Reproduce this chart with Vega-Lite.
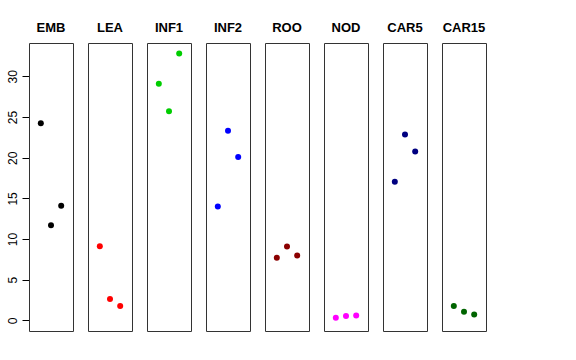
{
  "$schema": "https://vega.github.io/schema/vega-lite/v6.json",
  "padding": {"left": 6, "top": 22, "right": 5, "bottom": 5},
  "background": "white",
  "bounds": "flush",
  "data": {"values": [
    {"tissue": "EMB", "rep": 1, "value": 24.25},
    {"tissue": "EMB", "rep": 2, "value": 11.71},
    {"tissue": "EMB", "rep": 3, "value": 14.1},
    {"tissue": "LEA", "rep": 1, "value": 9.12},
    {"tissue": "LEA", "rep": 2, "value": 2.63},
    {"tissue": "LEA", "rep": 3, "value": 1.77},
    {"tissue": "INF1", "rep": 1, "value": 29.1},
    {"tissue": "INF1", "rep": 2, "value": 25.7},
    {"tissue": "INF1", "rep": 3, "value": 32.8},
    {"tissue": "INF2", "rep": 1, "value": 14.0},
    {"tissue": "INF2", "rep": 2, "value": 23.3},
    {"tissue": "INF2", "rep": 3, "value": 20.1},
    {"tissue": "ROO", "rep": 1, "value": 7.69},
    {"tissue": "ROO", "rep": 2, "value": 9.08},
    {"tissue": "ROO", "rep": 3, "value": 7.97},
    {"tissue": "NOD", "rep": 1, "value": 0.33},
    {"tissue": "NOD", "rep": 2, "value": 0.53},
    {"tissue": "NOD", "rep": 3, "value": 0.62},
    {"tissue": "CAR5", "rep": 1, "value": 17.05},
    {"tissue": "CAR5", "rep": 2, "value": 22.85},
    {"tissue": "CAR5", "rep": 3, "value": 20.75},
    {"tissue": "CAR15", "rep": 1, "value": 1.76},
    {"tissue": "CAR15", "rep": 2, "value": 1.07},
    {"tissue": "CAR15", "rep": 3, "value": 0.74}
  ]},
  "facet": {
    "column": {
      "field": "tissue", "type": "nominal",
      "sort": ["EMB", "LEA", "INF1", "INF2", "ROO", "NOD", "CAR5", "CAR15"],
      "header": {"title": null, "labelFont": "Liberation Sans", "labelFontWeight": "bold", "labelFontSize": 13, "labelPadding": 8, "labelColor": "black"}
    }
  },
  "spacing": 15,
  "spec": {
    "width": 44,
    "height": 288,
    "mark": {"type": "point", "filled": true, "size": 36, "opacity": 1},
    "encoding": {
      "x": {"field": "rep", "type": "quantitative", "scale": {"domain": [-0.16, 4.16], "nice": false, "zero": false}, "axis": null},
      "y": {"field": "value", "type": "quantitative",
        "scale": {"domain": [-1.3, 34.1], "nice": false, "zero": false},
        "axis": {"values": [0, 5, 10, 15, 20, 25, 30], "labelAngle": -90, "tickSize": 7, "domain": false, "grid": false, "title": null,
          "labelFont": "Liberation Sans", "labelFontSize": 12, "labelColor": "black", "tickColor": "black", "labelPadding": 3}},
      "color": {"field": "tissue", "type": "nominal",
        "scale": {"domain": ["EMB", "LEA", "INF1", "INF2", "ROO", "NOD", "CAR5", "CAR15"],
          "range": ["#000000", "#FF0000", "#00CD00", "#0000FF", "#8B0000", "#FF00FF", "#000080", "#006400"]},
        "legend": null}
    }
  },
  "config": {"view": {"stroke": "#333333", "strokeWidth": 1}}
}
